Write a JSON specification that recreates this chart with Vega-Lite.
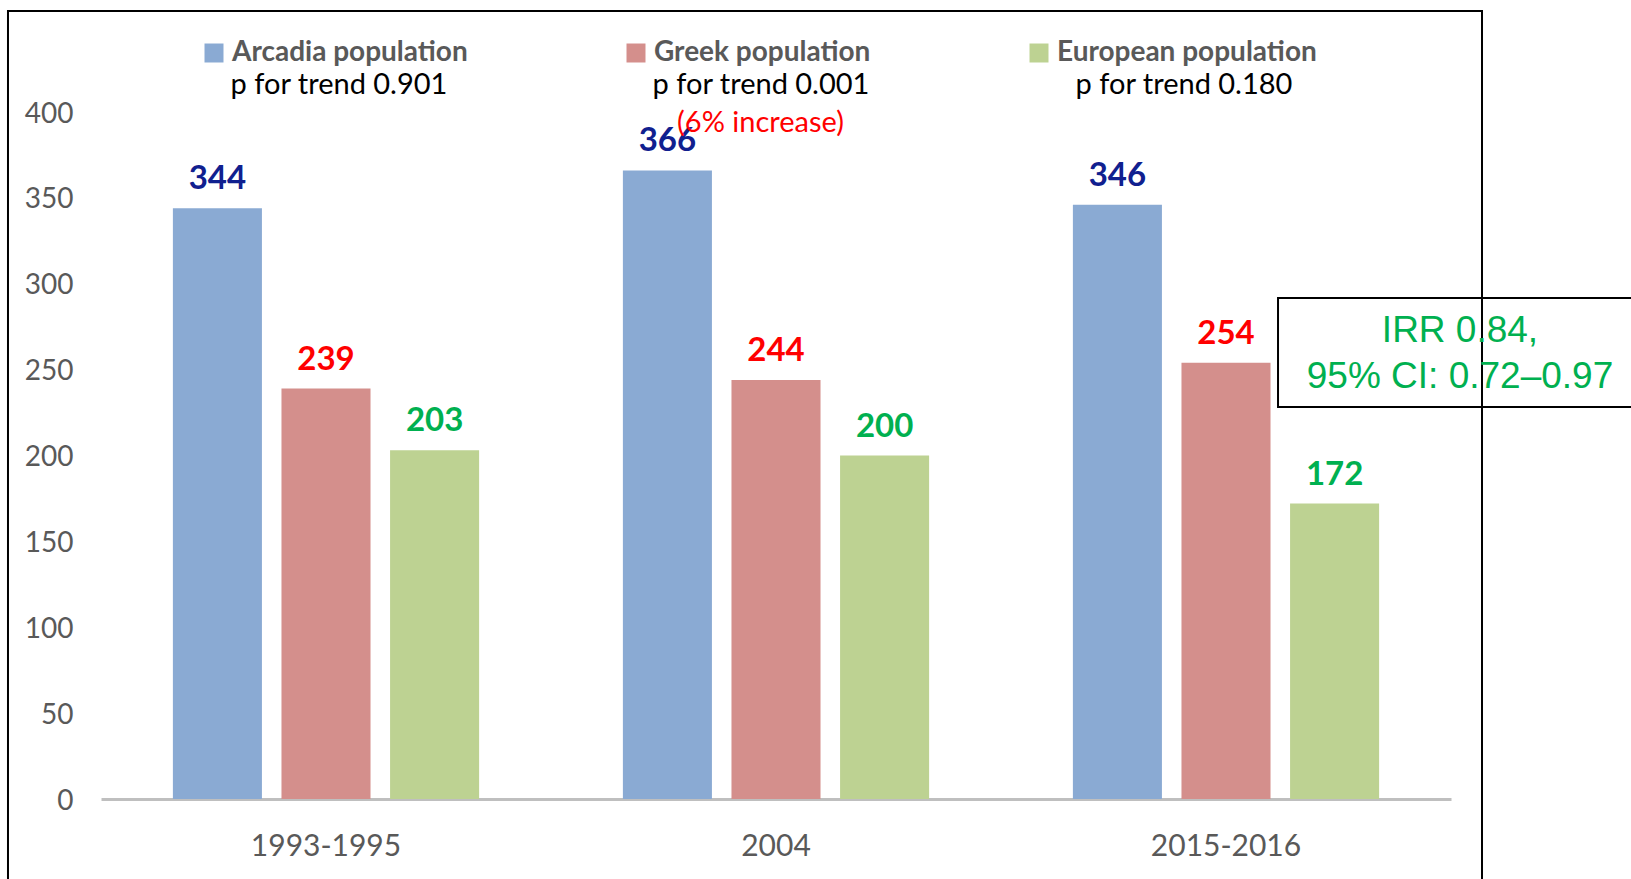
{
  "$schema": "https://vega.github.io/schema/vega-lite/v6.json",
  "width": 1350,
  "height": 687,
  "autosize": {"type": "none"},
  "padding": {"left": 101, "top": 112, "right": 180, "bottom": 80},
  "background": "white",
  "config": {"view": {"stroke": null}, "font": "Lato"},
  "datasets": {
    "bars": [
      {"period": "1993-1995", "series": "Arcadia population", "value": 344},
      {"period": "1993-1995", "series": "Greek population", "value": 239},
      {"period": "1993-1995", "series": "European population", "value": 203},
      {"period": "2004", "series": "Arcadia population", "value": 366},
      {"period": "2004", "series": "Greek population", "value": 244},
      {"period": "2004", "series": "European population", "value": 200},
      {"period": "2015-2016", "series": "Arcadia population", "value": 346},
      {"period": "2015-2016", "series": "Greek population", "value": 254},
      {"period": "2015-2016", "series": "European population", "value": 172}
    ]
  },
  "layer": [
    {
      "data": {"values": [{}]},
      "mark": {"type": "rect", "fill": "transparent", "stroke": "black", "strokeWidth": 2},
      "encoding": {
        "x": {"datum": -0.2067, "type": "quantitative", "scale": {"domain": [0, 3], "nice": false, "zero": false}, "axis": null},
        "x2": {"datum": 3.0689},
        "y": {"datum": 458.8, "type": "quantitative", "scale": {"domain": [0, 400], "nice": false}},
        "y2": {"datum": -100}
      }
    },
    {
      "data": {"name": "bars"},
      "resolve": {"scale": {"color": "independent"}},
      "layer": [
        {
          "mark": {"type": "bar"},
          "encoding": {
            "x": {
              "field": "period", "type": "nominal",
              "sort": ["1993-1995", "2004", "2015-2016"],
              "scale": {"paddingInner": 0, "paddingOuter": 0},
              "axis": {"title": null, "labelAngle": 0, "domainColor": "#BFBFBF", "domainWidth": 3, "ticks": false, "tickSize": 0, "labelPadding": 32, "labelFont": "Lato", "labelFontSize": 30, "labelColor": "#595959"}
            },
            "xOffset": {
              "field": "series", "type": "nominal",
              "scale": {"domain": ["Arcadia population", "Greek population", "European population"], "paddingInner": 0.18, "paddingOuter": 0.662}
            },
            "y": {
              "field": "value", "type": "quantitative",
              "scale": {"domain": [0, 400], "nice": false},
              "axis": {"title": null, "values": [0, 50, 100, 150, 200, 250, 300, 350, 400], "domain": false, "ticks": false, "tickSize": 0, "grid": false, "labelPadding": 28, "labelOffset": 2, "labelFont": "Lato", "labelFontSize": 28, "labelColor": "#595959"}
            },
            "color": {
              "field": "series", "type": "nominal",
              "scale": {"domain": ["Arcadia population", "Greek population", "European population"], "range": ["#8AAAD3", "#D48F8C", "#BDD292"]},
              "legend": {"orient": "none", "legendX": 99, "legendY": -73, "direction": "horizontal", "title": null, "symbolType": "square", "symbolSize": 361, "symbolStrokeWidth": 0, "symbolOpacity": 1, "labelFont": "Lato", "labelFontSize": 28, "labelFontWeight": "bold", "labelColor": "#595959", "labelOffset": 4, "columnPadding": 154, "labelLimit": 600, "padding": 0}
            }
          }
        },
        {
          "mark": {"type": "text", "font": "Lato", "fontSize": 33, "fontWeight": "bold", "baseline": "alphabetic", "dy": -19},
          "encoding": {
            "x": {"field": "period", "type": "nominal", "sort": ["1993-1995", "2004", "2015-2016"]},
            "xOffset": {"field": "series", "type": "nominal"},
            "y": {"field": "value", "type": "quantitative"},
            "text": {"field": "value", "type": "quantitative"},
            "color": {
              "field": "series", "type": "nominal",
              "scale": {"domain": ["Arcadia population", "Greek population", "European population"], "range": ["#10208F", "#FF0000", "#00B050"]},
              "legend": null
            }
          }
        }
      ]
    },
    {
      "data": {"values": [{}]},
      "mark": {"type": "text", "text": "p for trend 0.901", "font": "Lato", "fontSize": 29, "color": "black", "align": "center", "baseline": "alphabetic"},
      "encoding": {
        "x": {"datum": 0.5289, "type": "quantitative", "scale": {"domain": [0, 3], "nice": false, "zero": false}, "axis": null},
        "y": {"datum": 410.5, "type": "quantitative", "scale": {"domain": [0, 400], "nice": false}}
      }
    },
    {
      "data": {"values": [{}]},
      "mark": {"type": "text", "text": "p for trend 0.001", "font": "Lato", "fontSize": 29, "color": "black", "align": "center", "baseline": "alphabetic"},
      "encoding": {
        "x": {"datum": 1.4667, "type": "quantitative", "scale": {"domain": [0, 3], "nice": false, "zero": false}, "axis": null},
        "y": {"datum": 410.5, "type": "quantitative", "scale": {"domain": [0, 400], "nice": false}}
      }
    },
    {
      "data": {"values": [{}]},
      "mark": {"type": "text", "text": "p for trend 0.180", "font": "Lato", "fontSize": 29, "color": "black", "align": "center", "baseline": "alphabetic"},
      "encoding": {
        "x": {"datum": 2.4067, "type": "quantitative", "scale": {"domain": [0, 3], "nice": false, "zero": false}, "axis": null},
        "y": {"datum": 410.5, "type": "quantitative", "scale": {"domain": [0, 400], "nice": false}}
      }
    },
    {
      "data": {"values": [{}]},
      "mark": {"type": "text", "text": "(6% increase)", "font": "Lato", "fontSize": 29, "color": "#FF0000", "align": "center", "baseline": "alphabetic"},
      "encoding": {
        "x": {"datum": 1.4656, "type": "quantitative", "scale": {"domain": [0, 3], "nice": false, "zero": false}, "axis": null},
        "y": {"datum": 388.4, "type": "quantitative", "scale": {"domain": [0, 400], "nice": false}}
      }
    },
    {
      "data": {"values": [{}]},
      "mark": {"type": "rect", "fill": "transparent", "stroke": "black", "strokeWidth": 2},
      "encoding": {
        "x": {"datum": 2.6156, "type": "quantitative", "scale": {"domain": [0, 3], "nice": false, "zero": false}, "axis": null},
        "x2": {"datum": 3.45},
        "y": {"datum": 291.7, "type": "quantitative", "scale": {"domain": [0, 400], "nice": false}},
        "y2": {"datum": 228.2}
      }
    },
    {
      "data": {"values": [{}]},
      "mark": {"type": "text", "text": ["IRR 0.84,", "95% CI: 0.72–0.97"], "font": "Liberation Sans", "fontSize": 37, "lineHeight": 46, "color": "#00B050", "align": "center", "baseline": "middle"},
      "encoding": {
        "x": {"datum": 3.02, "type": "quantitative", "scale": {"domain": [0, 3], "nice": false, "zero": false}, "axis": null},
        "y": {"datum": 272.5, "type": "quantitative", "scale": {"domain": [0, 400], "nice": false}}
      }
    }
  ],
  "resolve": {"scale": {"x": "independent"}}
}
